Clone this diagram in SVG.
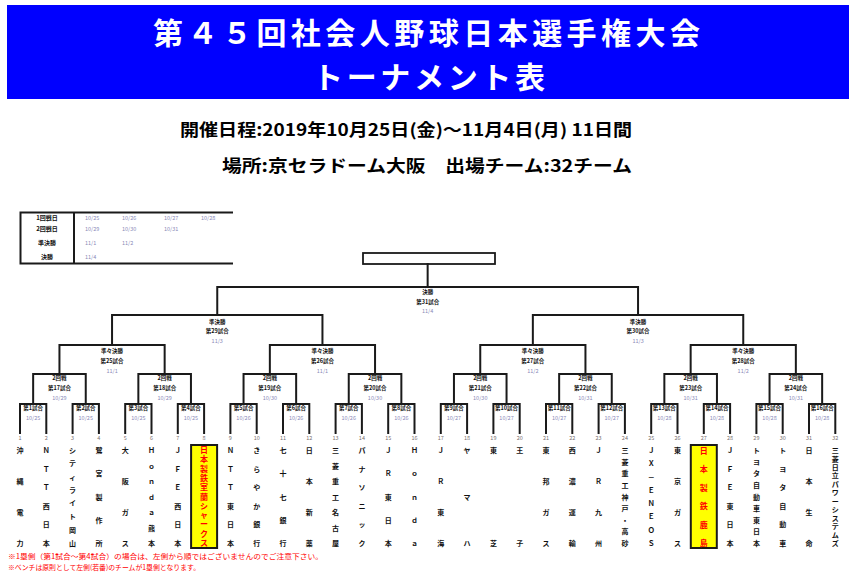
<svg xmlns="http://www.w3.org/2000/svg" width="857" height="581" viewBox="0 0 857 581">
<style>
text{font-family:"Noto Sans CJK JP","Liberation Sans",sans-serif}
.title{fill:#fff;font-weight:bold;font-size:30px}
.sub{fill:#000;font-weight:bold;font-size:17px}
.ln{fill:none;stroke:#1a1a1a;stroke-width:2;stroke-linejoin:miter;stroke-linecap:square}
.lb{font-size:5.5px;font-weight:bold;fill:#111;text-anchor:middle}
.lf{font-size:5.5px;fill:#8a8ab8;text-anchor:middle}
.tn{font-size:7px;font-weight:bold;fill:#111;text-anchor:middle}
.tr{font-size:8px;font-weight:bold;fill:#ff0000;text-anchor:middle}
.no{font-size:5.5px;fill:#7a7070;text-anchor:middle}
.th{font-size:6px;font-weight:bold;fill:#111;text-anchor:middle}
.td{font-size:5.5px;fill:#8a8ab8}
.note{font-size:7px;fill:#ff0000}
.ybox{fill:#ffff00;stroke:#1a1a1a;stroke-width:2}
</style>
<g id="header">
<rect x="7" y="5" width="842" height="94" fill="#0000ff"/>
<text class="title" x="153" y="44" textLength="547" lengthAdjust="spacing">第４５回社会人野球日本選手権大会</text>
<text class="title" x="313" y="88" textLength="232" lengthAdjust="spacing">トーナメント表</text>
</g>
<g id="info">
<text class="sub" x="180" y="136" textLength="452" lengthAdjust="spacingAndGlyphs">開催日程:2019年10月25日(金)～11月4日(月) 11日間</text>
<text class="sub" x="222" y="172" textLength="410" lengthAdjust="spacingAndGlyphs">場所:京セラドーム大阪　出場チーム:32チーム</text>
</g>
<g id="schedule">
<path class="ln" d="M20.5 212.5 H232 M20.5 263.5 H232 M20.5 212.5 V263.5 M74 212.5 V263.5"/>
<text class="th" x="47" y="220">1回戦日</text>
<text class="th" x="47" y="231">2回戦日</text>
<text class="th" x="47" y="245">準決勝</text>
<text class="th" x="47" y="259">決勝</text>
<text class="td" x="85" y="220">10/25</text><text class="td" x="122" y="220">10/26</text><text class="td" x="164" y="220">10/27</text><text class="td" x="201" y="220">10/28</text>
<text class="td" x="85" y="231">10/29</text><text class="td" x="122" y="231">10/30</text><text class="td" x="164" y="231">10/31</text>
<text class="td" x="85" y="245">11/1</text><text class="td" x="122" y="245">11/2</text>
<text class="td" x="85" y="259">11/4</text>
</g>
<g id="final-box">
<rect x="363" y="253" width="132" height="11" fill="#fff" stroke="#1a1a1a" stroke-width="1.8"/>
</g>
<g id="connectors">
<path class="ln" d="M427.65 264 V287 M217.25 315 V287 H638.05 V315"/>
<path class="ln" d="M112.05 345 V315 H322.45 V345 M532.85 345 V315 H743.25 V345"/>
<path class="ln" d="M59.45 374 V345 H164.65 V374 M269.85 374 V345 H375.05 V374 M480.25 374 V345 H585.45 V374 M690.65 374 V345 H795.85 V374"/>
<path class="ln" d="M33.15 404 V374 H85.75 V404 M138.35 404 V374 H190.95 V404 M243.55 404 V374 H296.15 V404 M348.75 404 V374 H401.35 V404 M453.95 404 V374 H506.55 V404 M559.15 404 V374 H611.75 V404 M664.35 404 V374 H716.95 V404 M769.55 404 V374 H822.15 V404"/>
<path class="ln" d="M20 433 V404 H46.3 V433 M72.6 433 V404 H98.9 V433 M125.2 433 V404 H151.5 V433 M177.8 433 V404 H204.1 V433 M230.4 433 V404 H256.7 V433 M283 433 V404 H309.3 V433 M335.6 433 V404 H361.9 V433 M388.2 433 V404 H414.5 V433 M440.8 433 V404 H467.1 V433 M493.4 433 V404 H519.7 V433 M546 433 V404 H572.3 V433 M598.6 433 V404 H624.9 V433 M651.2 433 V404 H677.5 V433 M703.8 433 V404 H730.1 V433 M756.4 433 V404 H782.7 V433 M809 433 V404 H835.3 V433"/>
</g>
<g id="match-labels">
<text class="lb" x="427.65" y="294">決勝</text><text class="lb" x="427.65" y="304">第31試合</text><text class="lf" x="427.65" y="313">11/4</text>
<text class="lb" x="217.25" y="324">準決勝</text><text class="lb" x="217.25" y="333">第29試合</text><text class="lf" x="217.25" y="343">11/3</text>
<text class="lb" x="638.05" y="324">準決勝</text><text class="lb" x="638.05" y="333">第30試合</text><text class="lf" x="638.05" y="343">11/3</text>
<text class="lb" x="112.05" y="353">準々決勝</text><text class="lb" x="112.05" y="363">第25試合</text><text class="lf" x="112.05" y="373">11/1</text>
<text class="lb" x="322.45" y="353">準々決勝</text><text class="lb" x="322.45" y="363">第26試合</text><text class="lf" x="322.45" y="373">11/1</text>
<text class="lb" x="532.85" y="353">準々決勝</text><text class="lb" x="532.85" y="363">第27試合</text><text class="lf" x="532.85" y="373">11/2</text>
<text class="lb" x="743.25" y="353">準々決勝</text><text class="lb" x="743.25" y="363">第28試合</text><text class="lf" x="743.25" y="373">11/2</text>
<text class="lb" x="59.45" y="380">2回戦</text><text class="lb" x="59.45" y="390">第17試合</text><text class="lf" x="59.45" y="400">10/29</text>
<text class="lb" x="164.65" y="380">2回戦</text><text class="lb" x="164.65" y="390">第18試合</text><text class="lf" x="164.65" y="400">10/29</text>
<text class="lb" x="269.85" y="380">2回戦</text><text class="lb" x="269.85" y="390">第19試合</text><text class="lf" x="269.85" y="400">10/30</text>
<text class="lb" x="375.05" y="380">2回戦</text><text class="lb" x="375.05" y="390">第20試合</text><text class="lf" x="375.05" y="400">10/30</text>
<text class="lb" x="480.25" y="380">2回戦</text><text class="lb" x="480.25" y="390">第21試合</text><text class="lf" x="480.25" y="400">10/30</text>
<text class="lb" x="585.45" y="380">2回戦</text><text class="lb" x="585.45" y="390">第22試合</text><text class="lf" x="585.45" y="400">10/31</text>
<text class="lb" x="690.65" y="380">2回戦</text><text class="lb" x="690.65" y="390">第23試合</text><text class="lf" x="690.65" y="400">10/31</text>
<text class="lb" x="795.85" y="380">2回戦</text><text class="lb" x="795.85" y="390">第24試合</text><text class="lf" x="795.85" y="400">10/31</text>
<text class="lb" x="33.15" y="410">第1試合</text><text class="lf" x="33.15" y="420">10/25</text>
<text class="lb" x="85.75" y="410">第2試合</text><text class="lf" x="85.75" y="420">10/25</text>
<text class="lb" x="138.35" y="410">第3試合</text><text class="lf" x="138.35" y="420">10/25</text>
<text class="lb" x="190.95" y="410">第4試合</text><text class="lf" x="190.95" y="420">10/25</text>
<text class="lb" x="243.55" y="410">第5試合</text><text class="lf" x="243.55" y="420">10/26</text>
<text class="lb" x="296.15" y="410">第6試合</text><text class="lf" x="296.15" y="420">10/26</text>
<text class="lb" x="348.75" y="410">第7試合</text><text class="lf" x="348.75" y="420">10/26</text>
<text class="lb" x="401.35" y="410">第8試合</text><text class="lf" x="401.35" y="420">10/26</text>
<text class="lb" x="453.95" y="410">第9試合</text><text class="lf" x="453.95" y="420">10/27</text>
<text class="lb" x="506.55" y="410">第10試合</text><text class="lf" x="506.55" y="420">10/27</text>
<text class="lb" x="559.15" y="410">第11試合</text><text class="lf" x="559.15" y="420">10/27</text>
<text class="lb" x="611.75" y="410">第12試合</text><text class="lf" x="611.75" y="420">10/27</text>
<text class="lb" x="664.35" y="410">第13試合</text><text class="lf" x="664.35" y="420">10/28</text>
<text class="lb" x="716.95" y="410">第14試合</text><text class="lf" x="716.95" y="420">10/28</text>
<text class="lb" x="769.55" y="410">第15試合</text><text class="lf" x="769.55" y="420">10/28</text>
<text class="lb" x="822.15" y="410">第16試合</text><text class="lf" x="822.15" y="420">10/28</text>
</g>
<g id="team-numbers">
<text class="no" x="20" y="439.5">1</text><text class="no" x="46.3" y="439.5">2</text><text class="no" x="72.6" y="439.5">3</text><text class="no" x="98.9" y="439.5">4</text>
<text class="no" x="125.2" y="439.5">5</text><text class="no" x="151.5" y="439.5">6</text><text class="no" x="177.8" y="439.5">7</text><text class="no" x="204.1" y="439.5">8</text>
<text class="no" x="230.4" y="439.5">9</text><text class="no" x="256.7" y="439.5">10</text><text class="no" x="283" y="439.5">11</text><text class="no" x="309.3" y="439.5">12</text>
<text class="no" x="335.6" y="439.5">13</text><text class="no" x="361.9" y="439.5">14</text><text class="no" x="388.2" y="439.5">15</text><text class="no" x="414.5" y="439.5">16</text>
<text class="no" x="440.8" y="439.5">17</text><text class="no" x="467.1" y="439.5">18</text><text class="no" x="493.4" y="439.5">19</text><text class="no" x="519.7" y="439.5">20</text>
<text class="no" x="546" y="439.5">21</text><text class="no" x="572.3" y="439.5">22</text><text class="no" x="598.6" y="439.5">23</text><text class="no" x="624.9" y="439.5">24</text>
<text class="no" x="651.2" y="439.5">25</text><text class="no" x="677.5" y="439.5">26</text><text class="no" x="703.8" y="439.5">27</text><text class="no" x="730.1" y="439.5">28</text>
<text class="no" x="756.4" y="439.5">29</text><text class="no" x="782.7" y="439.5">30</text><text class="no" x="809" y="439.5">31</text><text class="no" x="835.3" y="439.5">32</text>
</g>
<g id="teams">
<g id="team1"><text class="tn" x="20 20 20 20" y="453 484 515 546">沖縄電力</text></g>
<g id="team2"><text class="tn" x="46.3 46.3 46.3 46.3 46.3 46.3" y="453 471.6 490.2 508.8 527.4 546">ＮＴＴ西日本</text></g>
<g id="team3"><text class="tn" x="72.6 72.6 72.6 72.6 72.6 72.6 72.6 72.6" y="453 466.3 479.6 492.9 506.1 519.4 532.7 546">シティライト岡山</text></g>
<g id="team4"><text class="tn" x="98.9 98.9 98.9 98.9 98.9" y="453 476.25 499.5 522.75 546">鷺宮製作所</text></g>
<g id="team5"><text class="tn" x="125.2 125.2 125.2 125.2" y="453 484 515 546">大阪ガス</text></g>
<g id="team6"><text class="tn" x="151.5 151.5 151.5 151.5 151.5 151.5 151.5" y="453 468.5 484 499.5 515 530.5 546">Ｈｏｎｄａ熊本</text></g>
<g id="team7"><text class="tn" x="177.8 177.8 177.8 177.8 177.8 177.8" y="453 471.6 490.2 508.8 527.4 546">ＪＦＥ西日本</text></g>
<g id="team8"><rect class="ybox" x="191.1" y="445" width="26" height="103"/><text class="tr" x="204.1 204.1 204.1 204.1 204.1 204.1 204.1 204.1 204.1 204.1 204.1" y="453 462.3 471.6 480.9 490.2 499.5 508.8 518.1 527.4 536.7 546">日本製鉄室蘭シャークス</text></g>
<g id="team9"><text class="tn" x="230.4 230.4 230.4 230.4 230.4 230.4" y="453 471.6 490.2 508.8 527.4 546">ＮＴＴ東日本</text></g>
<g id="team10"><text class="tn" x="256.7 256.7 256.7 256.7 256.7 256.7" y="453 471.6 490.2 508.8 527.4 546">きらやか銀行</text></g>
<g id="team11"><text class="tn" x="283 283 283 283 283" y="453 476.25 499.5 522.75 546">七十七銀行</text></g>
<g id="team12"><text class="tn" x="309.3 309.3 309.3 309.3" y="453 484 515 546">日本新薬</text></g>
<g id="team13"><text class="tn" x="335.6 335.6 335.6 335.6 335.6 335.6 335.6" y="453 468.5 484 499.5 515 530.5 546">三菱重工名古屋</text></g>
<g id="team14"><text class="tn" x="361.9 361.9 361.9 361.9 361.9 361.9" y="453 471.6 490.2 508.8 527.4 546">パナソニック</text></g>
<g id="team15"><text class="tn" x="388.2 388.2 388.2 388.2 388.2" y="453 476.25 499.5 522.75 546">ＪＲ東日本</text></g>
<g id="team16"><text class="tn" x="414.5 414.5 414.5 414.5 414.5" y="453 476.25 499.5 522.75 546">Ｈｏｎｄａ</text></g>
<g id="team17"><text class="tn" x="440.8 440.8 440.8 440.8" y="453 484 515 546">ＪＲ東海</text></g>
<g id="team18"><text class="tn" x="467.1 467.1 467.1" y="453 499.5 546">ヤマハ</text></g>
<g id="team19"><text class="tn" x="493.4 493.4" y="453 546">東芝</text></g>
<g id="team20"><text class="tn" x="519.7 519.7" y="453 546">王子</text></g>
<g id="team21"><text class="tn" x="546 546 546 546" y="453 484 515 546">東邦ガス</text></g>
<g id="team22"><text class="tn" x="572.3 572.3 572.3 572.3" y="453 484 515 546">西濃運輸</text></g>
<g id="team23"><text class="tn" x="598.6 598.6 598.6 598.6" y="453 484 515 546">ＪＲ九州</text></g>
<g id="team24"><text class="tn" x="624.9 624.9 624.9 624.9 624.9 624.9 624.9 624.9 624.9" y="453 464.6 476.3 487.9 499.5 511.1 522.8 534.4 546">三菱重工神戸・高砂</text></g>
<g id="team25"><text class="tn" x="651.2 651.2 651.2 651.2 651.2 651.2 651.2 651.2" y="453 466.3 479.6 492.9 506.1 519.4 532.7 546">ＪＸ－ＥＮＥＯＳ</text></g>
<g id="team26"><text class="tn" x="677.5 677.5 677.5 677.5" y="453 484 515 546">東京ガス</text></g>
<g id="team27"><rect class="ybox" x="690.8" y="445" width="26" height="103"/><text class="tr" x="703.8 703.8 703.8 703.8 703.8 703.8" y="454 472.4 490.8 509.2 527.6 546">日本製鉄鹿島</text></g>
<g id="team28"><text class="tn" x="730.1 730.1 730.1 730.1 730.1 730.1" y="453 471.6 490.2 508.8 527.4 546">ＪＦＥ東日本</text></g>
<g id="team29"><text class="tn" x="756.4 756.4 756.4 756.4 756.4 756.4 756.4 756.4 756.4" y="453 464.6 476.3 487.9 499.5 511.1 522.8 534.4 546">トヨタ自動車東日本</text></g>
<g id="team30"><text class="tn" x="782.7 782.7 782.7 782.7 782.7 782.7" y="453 471.6 490.2 508.8 527.4 546">トヨタ自動車</text></g>
<g id="team31"><text class="tn" x="809 809 809 809" y="453 484 515 546">日本生命</text></g>
<g id="team32"><text class="tn" x="835.3 835.3 835.3 835.3 835.3 835.3 835.3 835.3 835.3 835.3 835.3 835.3" y="453 461.5 469.9 478.4 486.8 495.3 503.7 512.2 520.6 529.1 537.5 546">三菱日立パワーシステムズ</text></g>
</g>
<g id="notes">
<text class="note" x="8" y="559" textLength="315" lengthAdjust="spacingAndGlyphs">※1塁側（第1試合～第4試合）の場合は、左側から順ではございませんのでご注意下さい。</text>
<text class="note" x="8" y="570" textLength="192" lengthAdjust="spacingAndGlyphs">※ベンチは原則として左側(若番)のチームが1塁側となります。</text>
</g>
</svg>
